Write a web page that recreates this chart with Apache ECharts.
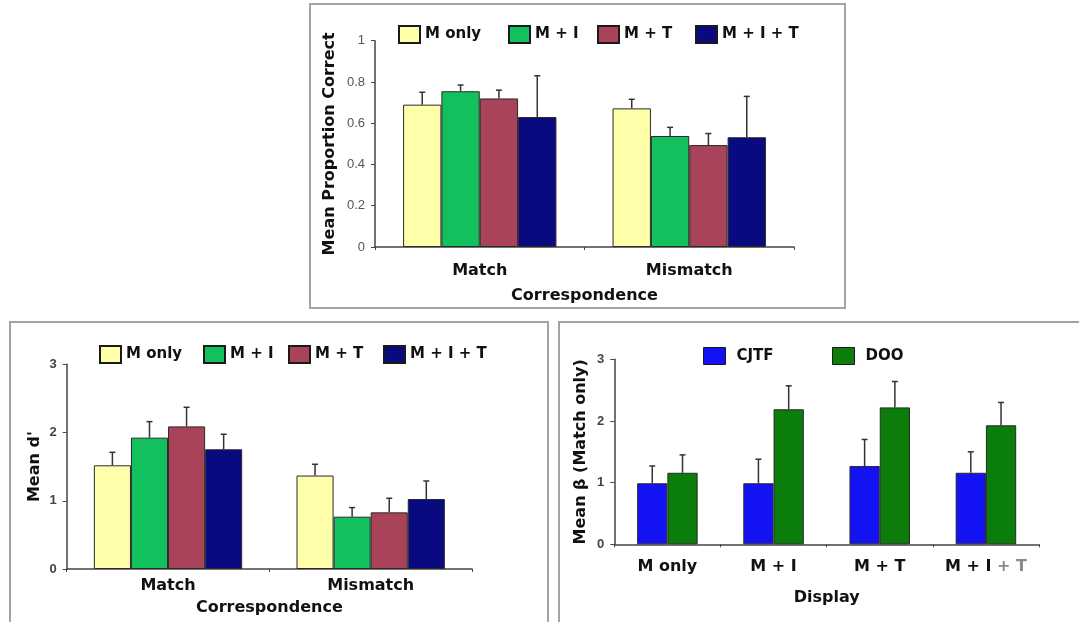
<!DOCTYPE html>
<html>
<head>
<meta charset="utf-8">
<script src="https://cdn.jsdelivr.net/npm/echarts@6/dist/echarts.min.js"></script>
<style>
html,body{margin:0;padding:0;background:#fff;}
#chart{width:1079px;height:622px;}
</style>
</head>
<body>
<div id="chart"></div>
<script>
// ---------- DATA ----------
const corrCategories = ['Match', 'Mismatch'];
const displaySeries = ['M only', 'M + I', 'M + T', 'M + I + T'];

// Top panel: Mean Proportion Correct  (per display, [Match, Mismatch])
const propMOnly = [0.69, 0.672];
const propMI    = [0.755, 0.538];
const propMT    = [0.72, 0.494];
const propMIT   = [0.63, 0.532];
const propErrMOnly = [0.06, 0.044];
const propErrMI    = [0.03, 0.042];
const propErrMT    = [0.04, 0.056];
const propErrMIT   = [0.20, 0.198];

// Bottom-left: Mean d'
const dMOnly = [1.52, 1.37];
const dMI    = [1.925, 0.767];
const dMT    = [2.09, 0.83];
const dMIT   = [1.755, 1.026];
const dErrMOnly = [0.19, 0.165];
const dErrMI    = [0.235, 0.133];
const dErrMT    = [0.28, 0.207];
const dErrMIT   = [0.22, 0.264];

// Bottom-right: Mean beta (Match only)
const displayCategories = ['M only', 'M + I', 'M + T', 'M + I + T'];
const groupSeries = ['CJTF', 'DOO'];
const betaCJTF = [0.99, 0.99, 1.27, 1.16];
const betaDOO  = [1.16, 2.19, 2.22, 1.93];
const betaErrCJTF = [0.28, 0.39, 0.43, 0.34];
const betaErrDOO  = [0.29, 0.38, 0.42, 0.37];

// ---------- STYLE ----------
const colors4 = ['#ffffaa', '#12c15d', '#a8435a', '#0a0a80'];
const colors2 = ['#1212f2', '#0a7d0a'];
const BOLD = 'DejaVu Sans, Verdana, sans-serif';
const FONT = 'Liberation Sans, Arial, sans-serif';
const axisColor = '#444';

function makeBar(name, data, idx, color, barW) {
  return {
    name: name, type: 'bar', xAxisIndex: idx, yAxisIndex: idx,
    data: data, barWidth: barW, barGap: '0%',
    itemStyle: {color: color, borderColor: '#2a2a2a', borderWidth: 1},
    emphasis: {disabled: true}, z: 2
  };
}
function makeErr(idx, sIdx, nSeries, ratio, means, errs) {
  return {
    type: 'custom', xAxisIndex: idx, yAxisIndex: idx, z: 5, silent: true,
    data: means.map((m, i) => [i, m, errs[i]]),
    renderItem: function (params, api) {
      const c = api.value(0), m = api.value(1), e = api.value(2);
      const bw = api.size([1, 0])[0] * ratio;
      const p = api.coord([c, m]);
      const x = p[0] + (sIdx - (nSeries - 1) / 2) * bw;
      const yt = api.coord([c, m + e])[1];
      const st = {stroke: '#333', lineWidth: 1.5};
      return {type: 'group', children: [
        {type: 'line', shape: {x1: x, y1: p[1], x2: x, y2: yt}, style: st},
        {type: 'line', shape: {x1: x - 3, y1: yt, x2: x + 3, y2: yt}, style: st}
      ]};
    }
  };
}

const catLabel = {color: '#111', fontFamily: BOLD, fontWeight: 'bold', fontSize: 16};
const nameStyle = {color: '#111', fontFamily: BOLD, fontWeight: 'bold', fontSize: 16};
function xAxis(idx, cats, name, labelMargin, nameGap, extra) {
  return Object.assign({
    type: 'category', gridIndex: idx, data: cats,
    name: name, nameLocation: 'middle', nameGap: nameGap, nameTextStyle: nameStyle,
    axisLine: {lineStyle: {color: axisColor, width: 1.5}},
    axisTick: {show: true, length: 3, lineStyle: {color: axisColor}},
    axisLabel: Object.assign({margin: labelMargin, interval: 0}, catLabel),
    splitLine: {show: false}
  }, extra || {});
}
function yAxis(idx, max, interval, name, nameGap, labelStyle) {
  return {
    type: 'value', gridIndex: idx, min: 0, max: max, interval: interval,
    name: name, nameLocation: 'middle', nameGap: nameGap, nameTextStyle: nameStyle,
    axisLine: {show: true, lineStyle: {color: axisColor, width: 1.5}},
    axisTick: {show: true, length: 4, lineStyle: {color: axisColor}},
    axisLabel: Object.assign({margin: 10, fontFamily: FONT}, labelStyle),
    splitLine: {show: false}
  };
}

const R4 = 0.183, R2 = 0.285;
// one legend component per entry so each entry sits where the reference has it
function legendEntry(name, left, top, opts) {
  return Object.assign({
    data: [name], left: left, top: top,
    icon: 'rect', itemWidth: 21, itemHeight: 17,
    itemStyle: {borderColor: '#1a1a1a', borderWidth: 2},
    textStyle: {color: '#111', fontFamily: BOLD, fontWeight: 'bold', fontSize: 15}
  }, opts || {});
}
const topLegendLeft = [393, 503, 592, 690];
const blLegendLeft = [94, 198, 283, 378];
const brLegendLeft = [698, 827];

const series = [];
const topMeans = [propMOnly, propMI, propMT, propMIT];
const topErrs = [propErrMOnly, propErrMI, propErrMT, propErrMIT];
const dMeans = [dMOnly, dMI, dMT, dMIT];
const dErrs = [dErrMOnly, dErrMI, dErrMT, dErrMIT];
displaySeries.forEach((n, i) => series.push(makeBar(n, topMeans[i], 0, colors4[i], (R4 * 100) + '%')));
displaySeries.forEach((n, i) => series.push(makeErr(0, i, 4, R4, topMeans[i], topErrs[i])));
displaySeries.forEach((n, i) => series.push(makeBar(n, dMeans[i], 1, colors4[i], (R4 * 100) + '%')));
displaySeries.forEach((n, i) => series.push(makeErr(1, i, 4, R4, dMeans[i], dErrs[i])));
const bMeans = [betaCJTF, betaDOO];
const bErrs = [betaErrCJTF, betaErrDOO];
groupSeries.forEach((n, i) => series.push(makeBar(n, bMeans[i], 2, colors2[i], (R2 * 100) + '%')));
groupSeries.forEach((n, i) => series.push(makeErr(2, i, 2, R2, bMeans[i], bErrs[i])));

const legends = [];
displaySeries.forEach((n, i) => legends.push(legendEntry(n, topLegendLeft[i], 20)));
displaySeries.forEach((n, i) => legends.push(legendEntry(n, blLegendLeft[i], 340)));
groupSeries.forEach((n, i) => legends.push(legendEntry(n, brLegendLeft[i], 342, {
  itemWidth: 22, itemStyle: {borderColor: '#1a1a1a', borderWidth: 1},
  textStyle: {color: '#111', fontFamily: BOLD, fontWeight: 'bold', fontSize: 15, padding: [0, 0, 0, 6]}
})));

const option = {
  animation: false,
  backgroundColor: '#fff',
  graphic: [
    {type: 'rect', shape: {x: 310, y: 4, width: 535, height: 304}, style: {fill: 'none', stroke: '#a3a3a3', lineWidth: 2}, z: -1},
    {type: 'rect', shape: {x: 10, y: 322, width: 538, height: 310}, style: {fill: 'none', stroke: '#a3a3a3', lineWidth: 2}, z: -1},
    {type: 'rect', shape: {x: 559, y: 322, width: 540, height: 310}, style: {fill: 'none', stroke: '#a3a3a3', lineWidth: 2}, z: -1}
  ],
  grid: [
    {left: 375, top: 40.7, width: 419, height: 206.3},
    {left: 66.7, top: 364.3, width: 405.3, height: 204.7},
    {left: 614.3, top: 359.3, width: 424.7, height: 185}
  ],
  legend: legends,
  xAxis: [
    xAxis(0, corrCategories, 'Correspondence', 16, 41),
    xAxis(1, corrCategories, 'Correspondence', 9, 31),
    xAxis(2, displayCategories, 'Display', 15, 46, {axisLabel: Object.assign({margin: 15, interval: 0,
      formatter: function (v) { return v === 'M + I + T' ? 'M + I {g|+ T}' : v; },
      rich: {g: {color: '#8a8a8a', fontFamily: BOLD, fontWeight: 'bold', fontSize: 16}}}, catLabel)})
  ],
  yAxis: [
    yAxis(0, 1, 0.2, 'Mean Proportion Correct', 37, {color: '#555', fontSize: 13}),
    yAxis(1, 3, 1, "Mean d'", 24, {color: '#444', fontSize: 13, fontWeight: 'bold'}),
    yAxis(2, 3, 1, 'Mean β (Match only)', 25, {color: '#444', fontSize: 13, fontWeight: 'bold'})
  ],
  series: series
};

const chart = echarts.init(document.getElementById('chart'), null, {renderer: 'canvas'});
chart.setOption(option);
</script>
</body>
</html>
